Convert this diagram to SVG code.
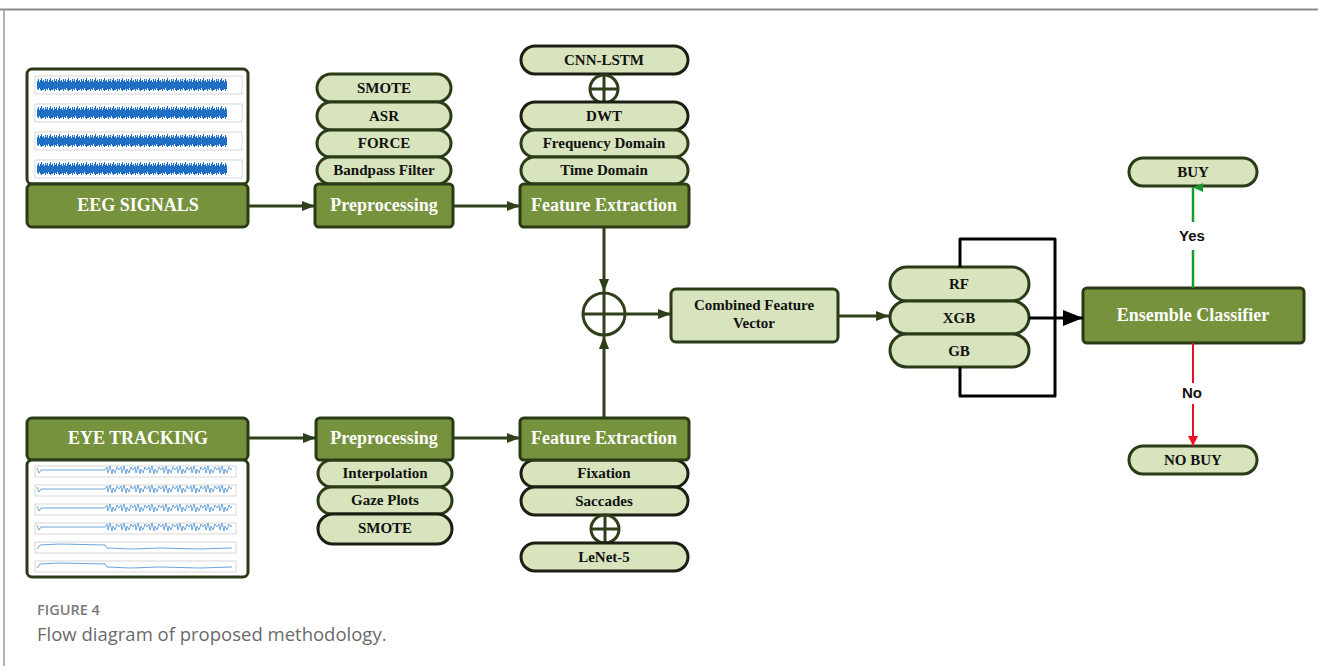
<svg xmlns="http://www.w3.org/2000/svg" width="1318" height="666" viewBox="0 0 1318 666">
<style>
.g{fill:#76923c;stroke:#2b3a17;stroke-width:3}
.p{fill:#d7e4bd;stroke:#2b3a17;stroke-width:3}
.pk{fill:#d7e4bd;stroke:#1a1f12;stroke-width:3}
.img{fill:#fff;stroke:#2b3a17;stroke-width:3}
.tw{font-family:"Liberation Serif",serif;font-weight:bold;font-size:18px;fill:#fff;text-anchor:middle}
.tb{font-family:"Liberation Serif",serif;font-weight:bold;font-size:15px;fill:#111;text-anchor:middle}
.lab{font-family:"Liberation Sans",Arial,sans-serif;font-weight:bold;font-size:15px;fill:#111;text-anchor:middle}
.c{fill:none;stroke:#2f3f1a;stroke-width:3}
.ox{fill:none;stroke:#2f3f1a;stroke-width:3}
.frame{fill:none;stroke:#bbb;stroke-width:0.6}
</style>
<defs>
<marker id="ah" markerWidth="13" markerHeight="10" refX="13" refY="5" orient="auto" markerUnits="userSpaceOnUse"><path d="M0 0 L13 5 L0 10 z" fill="#2f3f1a"/></marker>
<marker id="ahk" markerWidth="20" markerHeight="16" refX="20" refY="8" orient="auto" markerUnits="userSpaceOnUse"><path d="M0 0 L20 8 L0 16 z" fill="#000"/></marker>
<marker id="ahg" markerWidth="9" markerHeight="10" refX="5" refY="0" orient="auto-start-reverse" markerUnits="userSpaceOnUse"><path d="M0 10 L4.5 0 L9 10 z" fill="#1a9a2a"/></marker>
<marker id="ahr" markerWidth="10" markerHeight="12" refX="10" refY="5" orient="auto" markerUnits="userSpaceOnUse"><path d="M0 0 L10 5 L0 10 z" fill="#e8121e"/></marker>
<pattern id="eegn" width="9" height="14" patternUnits="userSpaceOnUse"><path d="M0.5 3v8M1.5 1v11M2.5 4v6M3.5 2v10M4.5 0v13M5.5 3v9M6.5 2v10M7.5 4v7M8.5 1v12" stroke="#1f6fc5" stroke-width="1.1"/></pattern>
<pattern id="eyew" width="14" height="9" patternUnits="userSpaceOnUse"><path d="M0 4 L2 1 L3 7 L5 0 L7 8 L8 3 L10 7 L12 1 L14 4" stroke="#5b9bd5" stroke-width="0.9" fill="none"/></pattern>
</defs>

<line x1="0" y1="9.5" x2="1318" y2="9.5" stroke="#8a8a8a" stroke-width="2"/>
<line x1="4" y1="9" x2="4" y2="666" stroke="#9a9a9a" stroke-width="1.5"/>

<g id="eeg-signals">
<rect class="img" x="27" y="69" width="221" height="115" rx="5"/>
<rect class="frame" x="35" y="76" width="207" height="18"/>
<rect class="frame" x="35" y="104" width="207" height="18"/>
<rect class="frame" x="35" y="132" width="207" height="18"/>
<rect class="frame" x="35" y="160" width="207" height="18"/>
<g transform="translate(37,78)"><rect width="190" height="13" fill="url(#eegn)"/></g>
<g transform="translate(37,106)"><rect width="190" height="13" fill="url(#eegn)"/></g>
<g transform="translate(37,134)"><rect width="190" height="13" fill="url(#eegn)"/></g>
<g transform="translate(37,162)"><rect width="190" height="13" fill="url(#eegn)"/></g>
<rect class="g" x="27" y="184" width="221" height="43" rx="5"/>
<text class="tw" x="138" y="211">EEG SIGNALS</text>
</g>

<g id="eeg-preprocessing">
<rect class="p" x="317" y="74" width="134" height="28" rx="14"/>
<text class="tb" x="384" y="93">SMOTE</text>
<rect class="p" x="317" y="102" width="134" height="28" rx="14"/>
<text class="tb" x="384" y="121">ASR</text>
<rect class="p" x="317" y="130" width="134" height="27" rx="13.5"/>
<text class="tb" x="384" y="148">FORCE</text>
<rect class="p" x="317" y="157" width="134" height="27" rx="13.5"/>
<text class="tb" x="384" y="175">Bandpass Filter</text>
<rect class="g" x="315" y="184" width="138" height="43" rx="4"/>
<text class="tw" x="384" y="211">Preprocessing</text>
</g>

<g id="eeg-feature-extraction">
<rect class="pk" x="521" y="46" width="167" height="28" rx="14"/>
<text class="tb" x="604" y="65">CNN-LSTM</text>
<circle class="ox" cx="604" cy="89" r="14" fill="#d7e4bd"/>
<path class="ox" d="M590 89 H618 M604 75 V103"/>
<rect class="pk" x="521" y="102" width="167" height="28" rx="14"/>
<text class="tb" x="604" y="121">DWT</text>
<rect class="p" x="521" y="130" width="167" height="27" rx="13.5"/>
<text class="tb" x="604" y="148">Frequency Domain</text>
<rect class="p" x="521" y="157" width="167" height="27" rx="13.5"/>
<text class="tb" x="604" y="175">Time Domain</text>
<rect class="g" x="520" y="184" width="169" height="43" rx="4"/>
<text class="tw" x="604" y="211">Feature Extraction</text>
</g>

<g id="eye-tracking">
<rect class="g" x="27" y="418" width="221" height="42" rx="5"/>
<text class="tw" x="138" y="444">EYE TRACKING</text>
<rect class="img" x="27" y="460" width="221" height="117" rx="5"/>
<rect class="frame" x="35" y="466" width="201" height="11"/>
<rect class="frame" x="35" y="485" width="201" height="11"/>
<rect class="frame" x="35" y="504" width="201" height="11"/>
<rect class="frame" x="35" y="523" width="201" height="11"/>
<rect class="frame" x="35" y="542" width="201" height="11"/>
<rect class="frame" x="35" y="561" width="201" height="11"/>
<g fill="none" stroke="#5b9bd5" stroke-width="0.9">
<path d="M37 468 L39 473 L41 470 L105 470"/>
<path d="M37 487 L39 492 L41 489 L105 489"/>
<path d="M37 506 L39 511 L41 508 L105 508"/>
<path d="M37 525 L39 530 L41 527 L105 527"/>
<path d="M37 549 L40 545 L60 544 L105 545 L107 548 L130 549 L160 548 L200 549 L232 548"/>
<path d="M37 568 L40 564 L60 563 L105 564 L107 567 L130 568 L160 567 L200 568 L232 567"/>
</g>
<g transform="translate(105,466)"><rect width="127" height="9" fill="url(#eyew)"/></g>
<g transform="translate(105,485)"><rect width="127" height="9" fill="url(#eyew)"/></g>
<g transform="translate(105,504)"><rect width="127" height="9" fill="url(#eyew)"/></g>
<g transform="translate(105,523)"><rect width="127" height="9" fill="url(#eyew)"/></g>
</g>

<g id="eye-preprocessing">
<rect class="p" x="318" y="460" width="134" height="27" rx="13.5"/>
<text class="tb" x="385" y="478">Interpolation</text>
<rect class="p" x="318" y="487" width="134" height="27" rx="13.5"/>
<text class="tb" x="385" y="505">Gaze Plots</text>
<rect class="pk" x="318" y="514" width="134" height="30" rx="15"/>
<text class="tb" x="385" y="533">SMOTE</text>
<rect class="g" x="316" y="418" width="137" height="42" rx="4"/>
<text class="tw" x="384" y="444">Preprocessing</text>
</g>

<g id="eye-feature-extraction">
<rect class="pk" x="521" y="460" width="167" height="27" rx="13.5"/>
<text class="tb" x="604" y="478">Fixation</text>
<rect class="pk" x="521" y="487" width="167" height="28" rx="14"/>
<text class="tb" x="604" y="506">Saccades</text>
<circle class="ox" cx="605" cy="529" r="14" fill="#d7e4bd"/>
<path class="ox" d="M591 529 H619 M605 515 V543"/>
<rect class="pk" x="521" y="543" width="167" height="28" rx="14"/>
<text class="tb" x="604" y="562">LeNet-5</text>
<rect class="g" x="520" y="418" width="169" height="42" rx="4"/>
<text class="tw" x="604" y="444">Feature Extraction</text>
</g>

<g id="fusion">
<circle cx="604" cy="314" r="21" fill="none" stroke="#2f3f1a" stroke-width="3"/>
<path d="M583 314 H625 M604 293 V335" fill="none" stroke="#2f3f1a" stroke-width="3"/>
</g>

<g id="combined-feature-vector">
<rect class="p" x="671" y="289" width="167" height="53" rx="5"/>
<text class="tb" x="754" y="310">Combined Feature</text>
<text class="tb" x="754" y="328">Vector</text>
</g>

<g id="classifiers">
<rect class="p" x="890" y="267" width="139" height="34" rx="17"/>
<text class="tb" x="959" y="289">RF</text>
<rect class="p" x="890" y="301" width="139" height="33" rx="16.5"/>
<text class="tb" x="959" y="323">XGB</text>
<rect class="p" x="890" y="334" width="139" height="33" rx="16.5"/>
<text class="tb" x="959" y="356">GB</text>
</g>

<g id="ensemble-classifier">
<rect class="g" x="1083" y="288" width="221" height="55" rx="4"/>
<text class="tw" x="1193" y="321">Ensemble Classifier</text>
</g>

<g id="buy">
<rect class="p" x="1129" y="158" width="128" height="28" rx="14"/>
<text class="tb" x="1193" y="177">BUY</text>
</g>

<g id="no-buy">
<rect class="p" x="1129" y="446" width="128" height="28" rx="14"/>
<text class="tb" x="1193" y="465">NO BUY</text>
</g>

<g id="connectors">
<line class="c" x1="248" y1="206" x2="315" y2="206" marker-end="url(#ah)"/>
<line class="c" x1="453" y1="206" x2="520" y2="206" marker-end="url(#ah)"/>
<line class="c" x1="248" y1="438" x2="316" y2="438" marker-end="url(#ah)"/>
<line class="c" x1="453" y1="438" x2="520" y2="438" marker-end="url(#ah)"/>
<line class="c" x1="604" y1="227" x2="604" y2="292" marker-end="url(#ah)"/>
<line class="c" x1="604" y1="418" x2="604" y2="336" marker-end="url(#ah)"/>
<line class="c" x1="625" y1="314" x2="671" y2="314" marker-end="url(#ah)"/>
<line class="c" x1="838" y1="316" x2="889" y2="316" marker-end="url(#ah)"/>
<polyline points="960,267 960,239 1055,239 1055,318" fill="none" stroke="#000" stroke-width="3" stroke-linejoin="round"/>
<polyline points="960,367 960,396 1055,396 1055,318" fill="none" stroke="#000" stroke-width="3" stroke-linejoin="round"/>
<line x1="1029" y1="318" x2="1083" y2="318" stroke="#000" stroke-width="3" marker-end="url(#ahk)"/>
<line x1="1193" y1="288" x2="1193" y2="250" stroke="#1a9a2a" stroke-width="2.5"/>
<line x1="1193" y1="222" x2="1193" y2="187" stroke="#1a9a2a" stroke-width="2.5" marker-end="url(#ahg)"/>
<text class="lab" x="1192" y="241">Yes</text>
<line x1="1193" y1="343" x2="1193" y2="383" stroke="#e8121e" stroke-width="2"/>
<line x1="1193" y1="404" x2="1193" y2="446" stroke="#e8121e" stroke-width="2" marker-end="url(#ahr)"/>
<text class="lab" x="1192" y="398">No</text>
</g>

<text x="37" y="615" font-family="'Open Sans',sans-serif" font-weight="600" font-size="14.5" fill="#7a7a7a">FIGURE 4</text>
<text x="37" y="641" font-family="'Open Sans',sans-serif" font-weight="400" font-size="18.5" fill="#6a6a6a">Flow diagram of proposed methodology.</text>
</svg>
